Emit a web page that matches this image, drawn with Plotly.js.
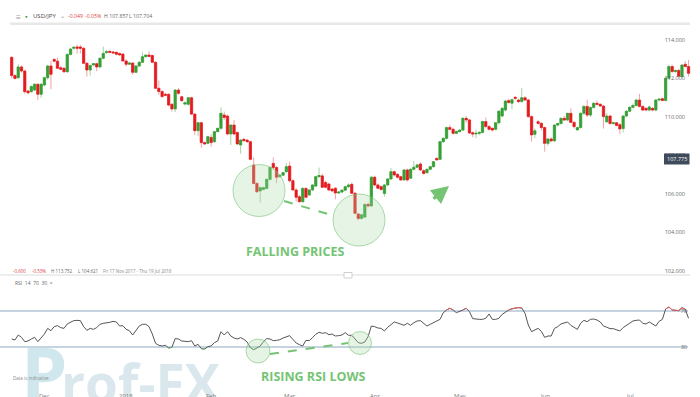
<!DOCTYPE html>
<html><head><meta charset="utf-8">
<script src="https://cdn.plot.ly/plotly-3.0.1.min.js"></script>
<style>html,body{margin:0;padding:0;background:#fff;overflow:hidden}#chart{width:700px;height:397px}</style>
</head><body><div id="chart"></div>
<script>
// ---- data (USD/JPY daily, Fri 17 Nov 2017 - Thu 19 Jul 2018) ----
const openP = [113.10,112.15,112.04,112.60,112.39,111.35,111.32,111.40,111.70,111.18,111.66,112.04,112.65,112.99,112.90,112.56,112.53,112.35,113.25,113.57,113.64,113.64,113.57,112.79,112.44,112.70,112.77,112.60,113.05,113.34,113.41,113.38,113.36,113.30,113.27,112.91,112.74,112.80,112.32,112.65,112.84,113.13,113.22,113.19,112.84,111.49,111.32,111.18,111.18,110.66,110.42,111.40,111.05,110.67,110.66,111.00,110.15,109.29,109.70,108.67,108.63,108.94,108.72,109.24,109.41,110.10,110.05,109.12,109.58,109.19,108.55,108.84,108.80,108.72,107.50,106.55,106.16,106.24,106.29,106.76,107.59,107.38,106.90,106.98,107.16,107.45,106.69,106.21,105.86,105.60,106.29,105.95,106.21,106.41,106.90,106.94,106.60,106.52,106.26,106.30,106.05,106.10,106.20,106.38,106.50,106.04,104.96,104.73,104.80,105.46,105.38,106.87,106.47,106.38,106.03,106.47,106.78,107.16,107.02,106.90,106.73,107.25,106.82,107.28,107.39,107.56,107.21,107.11,107.28,107.42,107.85,107.80,108.72,108.89,109.45,109.36,109.15,109.24,109.32,109.93,109.85,109.18,109.12,109.15,109.20,109.76,109.50,109.41,109.36,109.70,110.05,110.36,110.85,110.72,111.02,110.88,110.80,111.00,110.88,110.02,109.10,109.75,109.67,109.45,108.63,108.86,108.76,109.58,109.66,109.93,109.84,110.19,109.72,109.33,109.45,110.19,110.55,110.10,110.49,110.71,110.66,110.57,109.75,110.05,109.66,109.70,109.60,109.40,110.05,110.30,110.50,110.60,110.88,110.55,110.45,110.36,110.45,110.36,110.88,110.95,110.86,112.01,112.62,112.36,112.42,112.10,112.74,112.62];
const highP = [113.15,112.22,112.74,112.68,112.45,111.40,111.65,111.75,111.75,111.75,112.10,112.70,112.90,113.05,113.08,112.65,112.60,113.30,113.60,113.66,113.74,113.75,113.62,112.85,112.72,112.80,112.82,113.10,113.66,113.48,113.45,113.42,113.40,113.35,113.30,113.00,112.85,112.85,112.70,112.90,113.36,113.25,113.43,113.25,112.90,111.90,111.40,111.25,111.22,110.72,111.45,111.50,111.10,110.80,111.05,111.05,110.20,109.75,109.75,108.72,109.02,109.10,109.28,109.45,110.50,110.28,110.12,109.62,109.85,109.25,108.85,108.90,108.85,108.78,107.90,106.60,106.40,106.38,106.80,107.42,107.90,107.45,107.02,107.15,107.60,107.68,106.75,106.30,105.95,106.35,106.35,106.25,106.50,106.95,107.37,107.05,106.70,106.58,106.30,106.35,106.15,106.25,106.42,106.55,106.60,106.10,105.02,104.96,105.50,105.55,106.95,106.95,106.55,106.45,106.52,106.82,107.35,107.22,107.08,106.95,107.30,107.32,107.35,107.72,107.58,107.65,107.28,107.32,107.46,107.72,107.90,108.76,108.95,109.50,109.60,109.45,109.30,109.36,109.98,110.05,109.90,109.25,109.35,109.25,109.80,109.98,109.60,109.46,109.72,110.35,110.50,110.88,110.95,110.95,111.10,110.95,111.50,111.08,110.95,110.08,109.40,109.85,109.72,109.50,108.90,108.95,109.62,109.70,109.98,110.05,110.22,110.45,109.78,109.50,110.25,110.62,110.90,110.55,110.78,110.86,110.70,110.62,110.20,110.12,109.75,109.75,109.68,110.10,110.35,110.55,110.70,110.95,111.20,110.60,110.50,110.60,110.50,110.95,110.95,111.02,112.10,112.72,112.72,112.45,112.50,112.75,112.90,112.96];
const lowP = [112.00,111.95,112.00,112.30,111.20,111.18,111.25,111.35,110.88,111.00,111.60,111.95,111.44,112.85,112.50,112.45,112.30,112.30,113.20,113.50,113.30,113.30,112.75,112.10,112.15,112.65,112.38,112.55,113.00,113.30,113.32,113.30,113.20,113.20,112.88,112.62,112.70,112.20,112.28,112.60,112.80,113.10,113.12,112.80,111.45,111.15,111.00,111.10,110.55,110.28,110.25,111.15,110.80,110.60,110.60,110.10,109.05,109.00,108.40,108.55,108.58,108.45,108.65,109.20,109.35,109.85,109.05,108.55,109.05,108.55,108.10,108.72,108.65,107.75,106.50,106.05,105.55,106.20,106.25,106.70,107.25,106.56,106.85,106.95,107.10,106.60,106.15,105.60,105.55,105.55,105.78,105.90,106.15,106.35,106.85,106.30,106.30,106.15,106.12,105.72,106.00,106.05,106.15,106.30,106.00,104.95,104.62,104.68,104.75,105.30,105.35,106.40,106.25,106.18,105.86,106.42,106.72,106.90,106.80,106.68,106.68,106.65,106.78,107.22,107.35,107.20,107.00,107.05,107.24,107.38,107.72,107.75,108.65,108.82,109.30,109.10,109.10,109.20,109.28,109.70,109.12,108.95,108.90,109.05,109.15,109.45,109.30,109.25,109.30,109.60,110.00,110.30,110.70,110.40,110.90,110.72,110.75,110.85,109.95,108.72,108.90,109.60,109.30,108.20,108.50,108.70,108.70,109.50,109.60,109.80,109.78,109.70,109.40,109.28,109.40,110.10,110.00,110.00,110.45,110.60,110.52,109.40,109.70,109.60,109.60,109.52,109.10,109.20,110.00,110.25,110.45,110.55,110.50,110.30,110.30,110.30,110.30,110.30,110.80,110.82,110.80,111.95,112.30,112.30,112.10,112.05,112.60,112.10];
const closeP = [112.15,112.00,112.60,112.39,111.32,111.26,111.58,111.70,111.18,111.70,112.04,112.65,112.22,112.90,112.53,112.48,112.35,113.25,113.53,113.62,113.57,113.57,112.79,112.44,112.67,112.77,112.60,113.05,113.30,113.39,113.36,113.33,113.26,113.22,112.91,112.74,112.81,112.32,112.65,112.84,113.13,113.22,113.15,112.84,111.49,111.32,111.06,111.13,110.62,110.42,111.40,111.23,110.85,110.74,111.00,110.15,109.29,109.70,108.67,108.60,108.98,108.67,109.24,109.41,110.19,109.98,109.12,109.58,109.12,108.60,108.80,108.77,108.72,107.80,106.55,106.12,106.33,106.33,106.76,107.38,107.38,106.87,106.98,107.11,107.42,106.69,106.21,105.83,105.60,106.29,105.83,106.21,106.47,106.90,106.96,106.35,106.35,106.21,106.16,106.05,106.10,106.20,106.38,106.47,106.04,105.00,104.73,104.92,105.46,105.38,106.87,106.47,106.30,106.24,106.47,106.78,107.16,106.99,106.87,106.73,107.25,106.73,107.28,107.39,107.51,107.25,107.07,107.28,107.42,107.68,107.77,108.72,108.89,109.45,109.36,109.15,109.25,109.32,109.93,109.85,109.17,109.12,109.15,109.20,109.76,109.50,109.36,109.32,109.70,110.30,110.45,110.83,110.75,110.90,110.97,110.80,111.00,110.88,110.02,109.07,109.28,109.67,109.45,108.63,108.86,108.76,109.58,109.66,109.93,109.84,110.19,109.72,109.50,109.45,110.19,110.55,110.10,110.49,110.71,110.66,110.57,110.02,110.05,109.66,109.70,109.56,109.38,110.05,110.30,110.50,110.60,110.88,110.55,110.36,110.36,110.52,110.36,110.88,110.93,110.86,112.01,112.62,112.36,112.42,112.12,112.70,112.62,112.27];
const rsi14 = [38.9,37.8,43.3,40.7,35.9,36.7,38.9,40.7,35.9,40.4,44.4,50.7,48.1,52.6,53.7,51.5,50.7,55.6,57.8,59.3,59.6,59.3,52.6,48.5,50.7,49.6,51.5,55.2,56.3,56.7,57.4,58.5,57.8,53.3,53.7,49.6,48.1,43.3,48.9,53.3,55.2,55.2,52.6,44.4,34.1,31.9,31.1,31.9,28.9,29.6,39.3,38.9,36.7,36.7,35.9,37.0,31.1,33.0,28.1,27.8,30.4,31.1,34.8,36.7,47.0,43.3,47.0,42.2,40.0,38.9,40.4,38.5,35.6,29.3,27.0,28.9,31.1,35.9,39.3,38.9,37.0,37.4,38.1,40.0,41.5,42.6,38.5,34.4,32.6,31.1,37.4,37.0,40.4,44.1,46.3,45.2,45.9,43.7,44.4,42.2,42.6,43.3,45.9,43.0,43.0,38.5,34.8,34.1,35.6,41.5,53.3,52.6,51.1,50.7,47.8,51.9,55.2,57.8,56.7,55.6,54.1,56.3,54.1,57.0,58.9,59.3,55.9,53.3,55.2,57.0,58.9,60.7,68.1,71.1,73.0,71.1,68.1,69.3,71.1,73.0,69.3,61.5,60.7,60.7,60.7,61.9,66.7,60.7,60.7,61.9,66.3,68.9,71.1,72.6,73.3,73.7,73.3,67.4,54.4,47.0,48.9,50.7,47.4,40.7,42.2,42.2,50.7,52.6,55.6,56.3,57.8,54.1,52.2,49.6,56.3,59.6,58.1,60.7,61.1,60.0,57.8,53.3,51.9,50.4,50.4,48.9,47.8,51.5,54.1,56.3,58.9,59.6,60.0,56.3,55.6,57.8,55.2,53.3,58.5,60.7,72.2,74.4,71.1,71.1,70.4,73.7,71.9,61.9];
const priceTicks = [102,104,106,108,110,112,114];
const rsiLevels = [30,70];
const monthLabels = ['Dec','2018','Feb','Mar','Apr','May','Jun','Jul'];
const monthStartIdx = [10,35,61,85,111,137,163,189];

// ---- build ----
const N = closeP.length;
const idx = closeP.map((_, i) => i);
const bodyHi = openP.map((o, i) => Math.max(o, closeP[i]));
const bodyLo = openP.map((o, i) => Math.min(o, closeP[i]));
const GREEN = '#35a035', RED = '#e31b1f';
const W = 700, H = 397;
const px = x => x / W, py = y => 1 - y / H;

const wicks = {type:'candlestick', x: idx, open: openP, high: highP, low: lowP, close: closeP,
  xaxis:'x', yaxis:'y', whiskerwidth:0, hoverinfo:'skip',
  increasing:{line:{color:'rgba(53,160,53,0.45)', width:1}, fillcolor:'rgba(53,160,53,0.45)'},
  decreasing:{line:{color:'rgba(227,27,31,0.4)', width:1}, fillcolor:'rgba(227,27,31,0.4)'}};
const bodies = {type:'candlestick', x: idx, open: openP, high: bodyHi, low: bodyLo, close: closeP,
  xaxis:'x', yaxis:'y', whiskerwidth:0, hoverinfo:'skip',
  increasing:{line:{color:GREEN, width:0.4}, fillcolor:GREEN},
  decreasing:{line:{color:RED, width:0.4}, fillcolor:RED}};
const rsiMain = {type:'scatter', mode:'lines', x: idx, y: rsi14, xaxis:'x', yaxis:'y2',
  line:{color:'#555', width:1}, hoverinfo:'skip'};
const over = rsi14.map(v => v >= 70 ? v : null);
const under = rsi14.map(v => v <= 30 ? v : null);
const rsiOver = {type:'scatter', mode:'lines', x: idx, y: over, xaxis:'x', yaxis:'y2', connectgaps:false,
  line:{color:'#e85a5a', width:1}, hoverinfo:'skip'};
const rsiUnder = {type:'scatter', mode:'lines', x: idx, y: under, xaxis:'x', yaxis:'y2', connectgaps:false,
  line:{color:'#5cb85c', width:1}, hoverinfo:'skip'};

const txt = (x, y, t, opt) => Object.assign({xref:'paper', yref:'paper', x: px(x), y: py(y), text: t,
  showarrow:false, xanchor:'left', yanchor:'middle', borderpad:0, font:{size:5.5, color:'#666'}}, opt || {});

const annotations = [
  txt(20, 372, 'P', {font:{size:74, color:'rgba(150,205,215,0.45)', family:'Open Sans, sans-serif', weight:700}}),
  txt(60, 382, 'rof-FX', {font:{size:53, color:'rgba(150,185,200,0.35)', family:'Liberation Sans Narrow, Open Sans, sans-serif', weight:700}}),
  txt(15, 16, '≡', {font:{size:8, color:'#999'}}),
  txt(24, 16, '●', {font:{size:4.5, color:'#2e9e2e'}}),
  txt(32, 16, 'USD/JPY', {font:{size:6, color:'#444'}}),
  txt(59, 16, '⌄', {font:{size:5.5, color:'#888'}}),
  txt(67, 16, '-0.049', {font:{size:5.2, color:'#e0403c'}}),
  txt(84, 16, '-0.05%', {font:{size:5.2, color:'#e0403c'}}),
  txt(103, 16, 'H 107.857', {font:{size:5.2, color:'#666'}}),
  txt(128, 16, 'L 107.704', {font:{size:5.2, color:'#666'}}),
  txt(12, 271, '-0.600', {font:{size:4.5, color:'#e0403c'}}),
  txt(31, 271, '-0.53%', {font:{size:4.5, color:'#e0403c'}}),
  txt(50, 271, 'H 113.752', {font:{size:4.5, color:'#666'}}),
  txt(77, 271, 'L 104.621', {font:{size:4.5, color:'#666'}}),
  txt(102, 271, 'Fri 17 Nov 2017 - Thu 19 Jul 2018', {font:{size:4.5, color:'#888'}}),
  txt(14, 283, 'RSI  14  70  30  ×', {font:{size:5, color:'#666'}}),
  txt(677, 159, '107.775', {xanchor:'center', font:{size:5.5, color:'#fff'}}),
  txt(295, 251, 'FALLING PRICES', {xanchor:'center', font:{size:12.5, color:'#74c474', family:'Open Sans, sans-serif', weight:700}}),
  txt(313, 376, 'RISING RSI LOWS', {xanchor:'center', font:{size:12.5, color:'#74c474', family:'Open Sans, sans-serif', weight:700}}),
  txt(12, 378, 'Data is indicative', {font:{size:4.5, color:'#888'}}),
  {xref:'paper', yref:'paper', x: px(449), y: py(186), ax: px(432), ay: py(200), axref:'paper', ayref:'paper',
   text:'', showarrow:true, arrowhead:2, arrowsize:1, arrowwidth:3.5, arrowcolor:'#74c474', standoff:0, startstandoff:0}
];
monthLabels.forEach((m, k) => {
  annotations.push({xref:'x', yref:'paper', x: monthStartIdx[k], y: py(396), text: m, showarrow:false,
    xanchor:'center', yanchor:'middle', borderpad:0, font:{size:6, color:'#777'}});
});

const circ = (cx, cy, r, opt) => Object.assign({type:'circle', xref:'paper', yref:'paper',
  x0: px(cx - r), x1: px(cx + r), y0: py(cy + r), y1: py(cy - r),
  fillcolor:'rgba(170,220,170,0.3)', line:{color:'rgba(120,195,120,0.6)', width:1}, layer:'above'}, opt || {});
const seg = (x0, y0, x1, y1, opt) => Object.assign({type:'line', xref:'paper', yref:'paper',
  x0: px(x0), y0: py(y0), x1: px(x1), y1: py(y1), line:{color:'#74c474', width:2, dash:'dash'}, layer:'above'}, opt || {});

const shapes = [
  {type:'rect', xref:'paper', yref:'paper', x0: px(10), x1: px(690), y0: py(25), y1: py(22.5), fillcolor:'#e8e8e8', line:{width:0}},
  seg(0, 275, 690, 275, {line:{color:'#dcdcdc', width:1}}),
  {type:'rect', xref:'paper', yref:'paper', x0: px(344), x1: px(352), y0: py(278), y1: py(272.5), fillcolor:'#fff', line:{color:'#cfcfcf', width:1}, layer:'above'},
  {type:'line', xref:'paper', yref:'y2', x0: 0, x1: px(688), y0: rsiLevels[1], y1: rsiLevels[1], line:{color:'#b3c4d6', width:1.6}, layer:'below'},
  {type:'line', xref:'paper', yref:'y2', x0: 0, x1: px(688), y0: rsiLevels[0], y1: rsiLevels[0], line:{color:'#b3c4d6', width:1.6}, layer:'below'},
  {type:'rect', xref:'paper', yref:'paper', x0: px(664), x1: px(689.5), y0: py(164.5), y1: py(153.5), fillcolor:'#3f4a5a', line:{width:0}, layer:'above'},
  circ(259, 190.5, 26),
  circ(359, 220, 26),
  seg(284, 201, 333, 215.5),
  circ(258, 351, 12),
  circ(360, 343, 11.5),
  seg(270, 354, 348, 343)
];

const layout = {
  width: W, height: H, margin:{l:0, r:0, t:0, b:0}, paper_bgcolor:'#fff', plot_bgcolor:'rgba(0,0,0,0)',
  showlegend:false, boxmode:'overlay', boxgap:0.3, boxgroupgap:0,
  font:{family:'Open Sans, Roboto, sans-serif', color:'#666'},
  xaxis:{range:[-3.578, 210.51], visible:false, rangeslider:{visible:false}, fixedrange:true},
  yaxis:{domain:[py(275), py(25)], range:[101.792, 114.779], side:'right', ticklabelposition:'inside',
    tickvals: priceTicks, tickformat:'.3f', showgrid:false, zeroline:false, showline:false, ticks:'',
    tickfont:{size:5.5, color:'#666'}, ticklabelstandoff:12, fixedrange:true},
  yaxis2:{domain:[py(380), py(282)], range:[-6.67, 102.2], anchor:'x', side:'right', ticklabelposition:'inside',
    tickvals: rsiLevels, showgrid:false, zeroline:false, showline:false, ticks:'',
    tickfont:{size:5.5, color:'#666'}, ticklabelstandoff:10, fixedrange:true},
  annotations, shapes
};
Plotly.newPlot('chart', [wicks, bodies, rsiMain, rsiOver, rsiUnder], layout, {staticPlot:true, displayModeBar:false});
</script></body></html>
